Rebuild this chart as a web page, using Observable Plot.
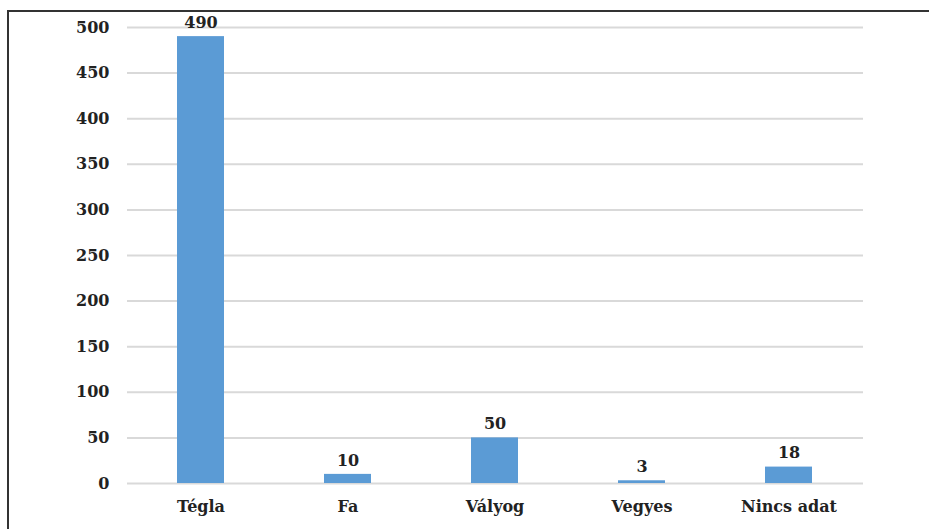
<!DOCTYPE html>
<html>
<head>
<meta charset="utf-8">
<script src="https://cdn.jsdelivr.net/npm/d3@7"></script>
<script src="https://cdn.jsdelivr.net/npm/@observablehq/plot@0.6"></script>
<style>
  html, body { margin: 0; padding: 0; background: #fff; overflow: hidden; }
  #wrap { position: relative; width: 929px; height: 529px; overflow: hidden; }
  #frame { position: absolute; left: 7px; top: 10px; width: 960px; height: 560px; border: 2px solid #333; box-sizing: border-box; }
  #chart { position: absolute; left: 0; top: 0; }
</style>
</head>
<body>
<div id="wrap"><div id="frame"></div><div id="chart"></div></div>
<script>
const categories = ["Tégla", "Fa", "Vályog", "Vegyes", "Nincs adat"];
const values = [490, 10, 50, 3, 18];
const yTicks = [0, 50, 100, 150, 200, 250, 300, 350, 400, 450, 500];

const data = categories.map((c, i) => ({category: c, value: values[i]}));
const font = "DejaVu Serif, Georgia, serif";

const chart = Plot.plot({
  width: 929,
  height: 529,
  marginLeft: 127,
  marginRight: 66,
  marginTop: 27,
  marginBottom: 46,
  style: {fontFamily: font, fontSize: "16px", fontWeight: "bold", color: "#222", background: "transparent"},
  x: {domain: categories, paddingInner: 0.68, paddingOuter: 0.34, label: null},
  y: {domain: [0, 500], label: null},
  marks: [
    Plot.ruleY(yTicks, {stroke: "#d9d9d9", strokeWidth: 2}),
    Plot.barY(data, {x: "category", y: "value", fill: "#5b9bd5"}),
    Plot.text(data, {x: "category", y: "value", text: d => String(d.value), dy: -14, fill: "#222", fontSize: 16, fontWeight: "bold"}),
    Plot.axisY({ticks: yTicks, tickSize: 0, tickPadding: 18, fontSize: 16, label: null}),
    Plot.axisX({tickSize: 0, tickPadding: 17, fontSize: 16, label: null})
  ]
});
document.getElementById("chart").appendChild(chart);
</script>
</body>
</html>
